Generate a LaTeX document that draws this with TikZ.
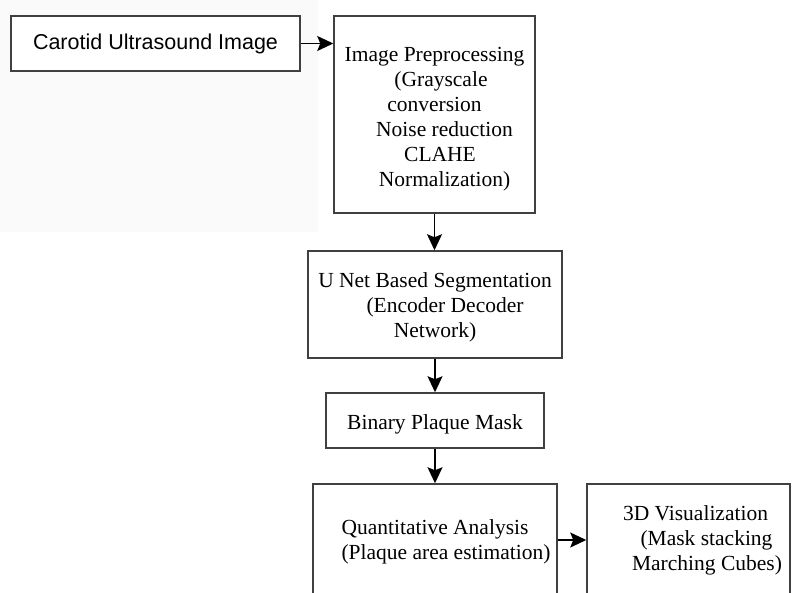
\documentclass[tikz,border=0pt]{standalone}
\usepackage{fontspec}
\setmainfont{Liberation Serif}
\newfontfamily\arialfont{Liberation Sans}
\usetikzlibrary{arrows.meta}
\newcommand\lowr[1]{\rule{0pt}{#1}}
\tikzset{
  box/.style={draw=black!75, line width=1.5pt, fill=white, inner sep=0pt, align=center,
    font=\fontsize{21.5}{25}\selectfont},
  flow/.style={draw=black, line width=1.5pt, -{Stealth[length=16pt,width=15pt,inset=3pt]}},
}
\begin{document}
\begin{tikzpicture}[x=1pt,y=-1pt]
\useasboundingbox (0,0) rectangle (792,592);
\clip (0,0) rectangle (792,592);
\fill[black!2] (0,0) rectangle (318,232);
\node[box, minimum width=289pt, minimum height=55pt, font=\arialfont\fontsize{21.5}{25}\selectfont] (a) at (155.5,43.5) {\lowr{17pt}Carotid Ultrasound Image};
\node[box, minimum width=201pt, minimum height=197pt] (b) at (434.5,114.5)
  {\lowr{23pt}Image Preprocessing\\ \hspace*{13pt}(Grayscale\\ conversion\\ \hspace*{20pt}Noise reduction\\ \hspace*{11pt}CLAHE\\ \hspace*{20pt}Normalization)};
\node[box, minimum width=254pt, minimum height=107pt] (c) at (435,304.5)
  {\lowr{21pt}U Net Based Segmentation\\ \hspace*{20pt}(Encoder Decoder\\ Network)};
\node[box, minimum width=218pt, minimum height=55pt] (d) at (435,420.5) {\lowr{23pt}Binary Plaque Mask};
\node[box, minimum width=244pt, minimum height=112pt] (e) at (435,540)
  {\lowr{19pt}Quantitative Analysis\\ \hspace*{22pt}(Plaque area estimation)};
\node[box, minimum width=203pt, minimum height=112pt] (f) at (688.5,540)
  {\hspace*{14pt}3D Visualization\\ \hspace*{36pt}(Mask stacking\\ \hspace*{37pt}Marching Cubes)};
\draw[flow] (a.east) -- (a.east -| b.west);
\draw[flow] (b.south) -- (b.south |- c.north);
\draw[flow] (c.south) -- (c.south |- d.north);
\draw[flow] (d.south) -- (d.south |- e.north);
\draw[flow] (e.east) -- (e.east -| f.west);
\end{tikzpicture}
\end{document}
